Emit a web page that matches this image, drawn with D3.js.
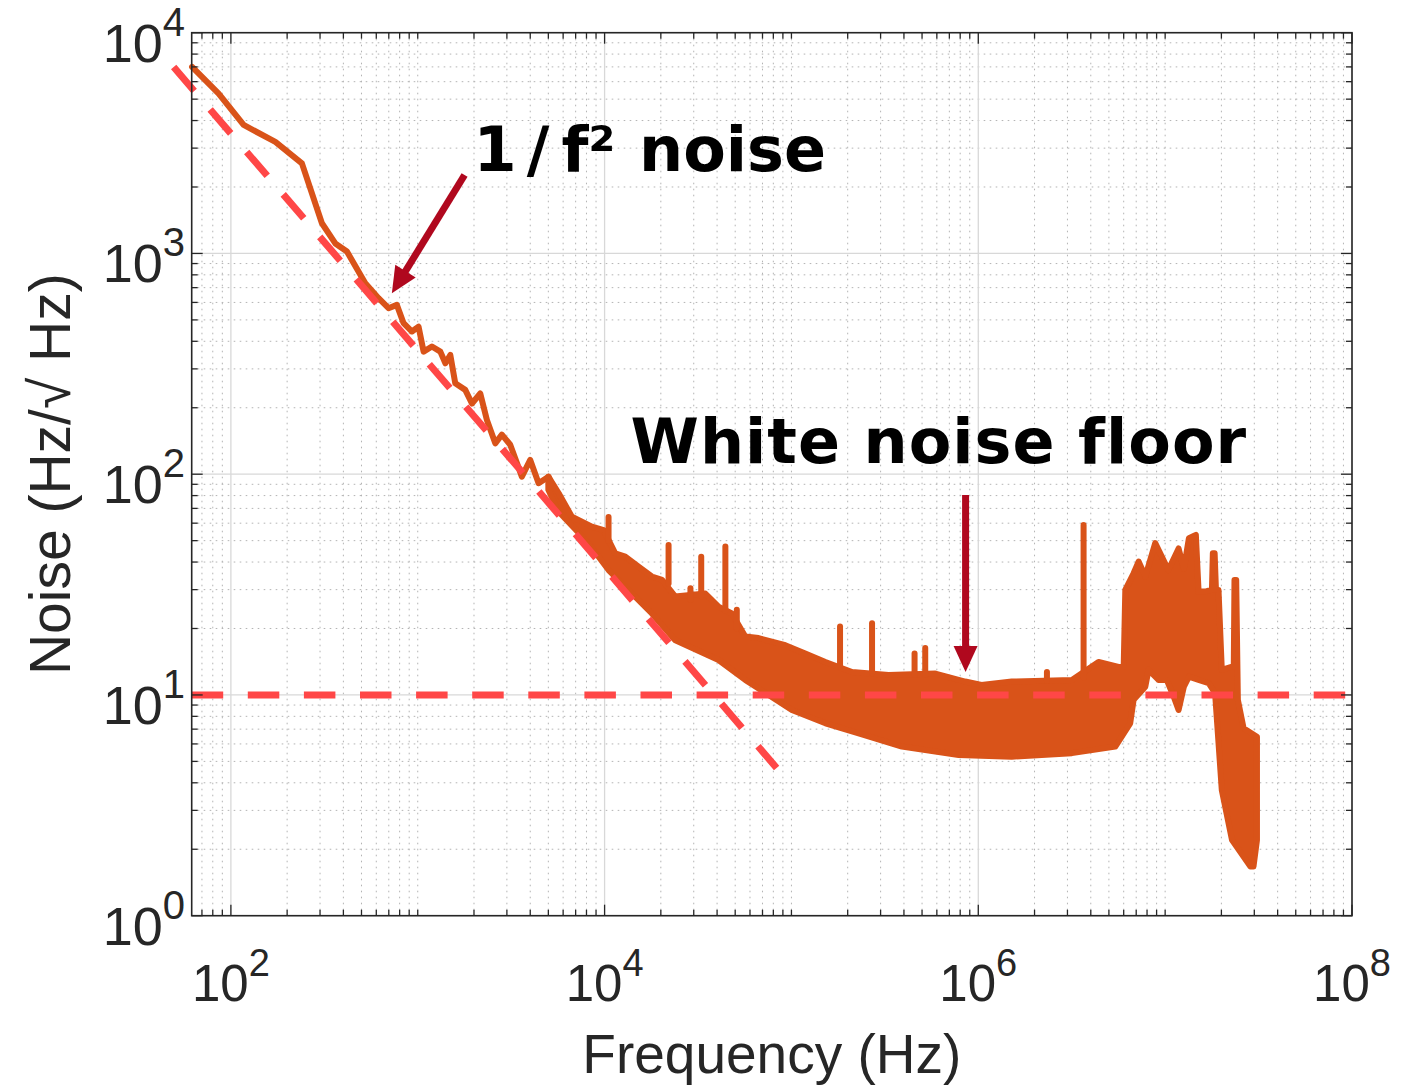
<!DOCTYPE html>
<html lang="en">
<head>
<meta charset="utf-8">
<script src="https://d3js.org/d3.v7.min.js"></script>
<style>
  body { margin: 0; background: #fff; }
  text { font-family: "Liberation Sans", Arial, Helvetica, sans-serif; fill: #262626; }
  .note { font-family: "DejaVu Sans", Verdana, sans-serif; font-weight: bold; fill: #000; }
</style>
</head>
<body>
<script>
// ---- values ----
// low-frequency part of the spectrum (single trace)
var lineFreq  = [62, 86, 117, 173, 240, 307, 362, 418, 524, 617, 698, 773, 840, 931, 1010, 1075, 1191, 1321, 1406, 1494, 1588, 1796, 1950, 2161, 2345, 2600, 2820, 3126, 3608, 4000, 4433, 5012, 5680];
var lineNoise = [7000, 5300, 3820, 3200, 2560, 1370, 1110, 1020, 733, 627, 565, 585, 483, 443, 466, 359, 379, 359, 318, 347, 258, 241, 209, 232, 176, 138, 151, 136, 97.5, 116, 91, 97.5, 75];

// dense part: top and bottom of the noisy band
var upperFreq  = [5000, 5680, 6680, 8550, 9890, 11400, 12900, 15200, 17900, 20300, 23900, 34600, 40700, 48000, 56600, 66700, 92700, 118600, 152000, 211000, 331000, 589000, 851000, 1.04e6, 1.51e6, 3.17e6, 4.4e6, 5.63e6, 6.0e6, 6.12e6, 6.78e6, 7.21e6, 7.83e6, 8.85e6, 1.04e7, 1.18e7, 1.26e7, 1.34e7, 1.46e7, 1.51e7, 1.64e7, 1.78e7, 1.80e7, 1.84e7, 1.87e7, 1.93e7, 2.01e7, 2.33e7, 2.35e7, 2.40e7, 2.45e7, 2.63e7, 3.10e7, 3.10e7];
var upperNoise = [97.5, 82, 64.2, 57.8, 55.8, 43.8, 42.3, 38.1, 34.4, 33.2, 27.9, 28.8, 25.1, 23.4, 18.4, 18.1, 16.8, 15.4, 14.1, 12.7, 12.3, 12.5, 11.5, 11.1, 11.5, 11.7, 14.1, 13.4, 13.4, 29.9, 35.6, 40.2, 34.4, 48.7, 36.8, 46.1, 37.3, 51.3, 53.1, 29.4, 29.4, 30, 43.9, 43.9, 30, 29.9, 13.0, 13.5, 33.2, 33.2, 9.5, 7.06, 6.47, 2.2];
var lowerFreq  = [5000, 5680, 8200, 10500, 17900, 23900, 40700, 56600, 100500, 152000, 229000, 390000, 785000, 1.51e6, 3.17e6, 5.41e6, 6.5e6, 6.78e6, 7.83e6, 8.15e6, 9.22e6, 1.02e7, 1.11e7, 1.18e7, 1.26e7, 1.34e7, 1.51e7, 1.71e7, 1.85e7, 2.01e7, 2.28e7, 2.86e7, 2.97e7];
var lowerNoise = [85, 67.6, 48.7, 36.8, 23.4, 17.7, 14.4, 11.7, 8.55, 7.44, 6.7, 5.84, 5.35, 5.25, 5.45, 5.84, 7.44, 9.5, 10.9, 13, 11.7, 11.7, 9.84, 8.55, 10.9, 12.1, 11.7, 11.3, 10.2, 3.7, 2.2, 1.67, 1.67];

// narrow spurs standing out of the band
var spikeFreq = [10500, 22000, 28800, 32900, 44300, 51000, 182000, 270000, 456000, 520000, 2.33e6, 3.66e6];
var spikeBase = [50, 32, 27, 28, 24, 20, 13.5, 12.5, 12.3, 12.3, 11.6, 12];
var spikePeak = [64, 47.8, 30.4, 42.3, 47, 24.3, 20.4, 21.1, 15.4, 16.3, 12.7, 58.9];

// guide lines
var fitFreq = [49.4, 83300];
var fitNoise = [6990, 4.67];
var floorLevel = 10;

// ticks
var xTickExp = [2, 4, 6, 8];
var yTickExp = [0, 1, 2, 3, 4];

// annotations (data units)
var noteFreq = [1990, 13770];
var noteNoise = [2363, 112.4];
var arrowFromFreq = [1781, 855000], arrowFromNoise = [2266, 80.6];
var arrowToFreq = [727, 855000], arrowToNoise = [660, 12.7];

// ---- layout ----
var W = 1425, H = 1086;
var padL = 191.7, padR = 1352, padT = 32.7, padB = 915.7;
var orange = "#D95319", dashRed = "#FF4747", arrowRed = "#B0081E", axisCol = "#262626";

var x = d3.scaleLog().domain([61.7, 1e8]).range([padL, padR]);
var y = d3.scaleLog().domain([1, 1e4]).range([padB, padT]);

var svg = d3.select("body").append("svg")
    .attr("width", W)
    .attr("height", H);

// grid
var xMinor = [], yMinor = [];
for (var e = 1; e < 8; e++) {
    for (var k = 1; k < 10; k++) {
        var v = k * Math.pow(10, e);
        if (v > 61.7 && v < 1e8 && xTickExp.indexOf(Math.log10(v)) < 0) xMinor.push(v);
    }
}
for (var e2 = 0; e2 < 4; e2++) {
    for (var k2 = 2; k2 < 10; k2++) yMinor.push(k2 * Math.pow(10, e2));
}

var grid = svg.append("g");
grid.selectAll(".xminor").data(xMinor).enter().append("line")
    .attr("x1", function(d) { return x(d); }).attr("x2", function(d) { return x(d); })
    .attr("y1", padT).attr("y2", padB)
    .attr("stroke", "#b4b4b4").attr("stroke-width", 1).attr("stroke-dasharray", "1.6,4.4");
grid.selectAll(".yminor").data(yMinor).enter().append("line")
    .attr("x1", padL).attr("x2", padR)
    .attr("y1", function(d) { return y(d); }).attr("y2", function(d) { return y(d); })
    .attr("stroke", "#b4b4b4").attr("stroke-width", 1).attr("stroke-dasharray", "1.6,4.4");
grid.selectAll(".xmajor").data(xTickExp).enter().append("line")
    .attr("x1", function(d) { return x(Math.pow(10, d)); }).attr("x2", function(d) { return x(Math.pow(10, d)); })
    .attr("y1", padT).attr("y2", padB)
    .attr("stroke", "#d8d8d8").attr("stroke-width", 1.3);
grid.selectAll(".ymajor").data(yTickExp).enter().append("line")
    .attr("x1", padL).attr("x2", padR)
    .attr("y1", function(d) { return y(Math.pow(10, d)); }).attr("y2", function(d) { return y(Math.pow(10, d)); })
    .attr("stroke", "#d8d8d8").attr("stroke-width", 1.3);

// spectrum
var line = d3.line()
    .x(function(d) { return x(d[0]); })
    .y(function(d) { return y(d[1]); });

var lowPts = lineFreq.map(function(f, i) { return [f, lineNoise[i]]; });
svg.append("path")
    .attr("d", line(lowPts))
    .attr("fill", "none").attr("stroke", orange)
    .attr("stroke-width", 6).attr("stroke-linejoin", "round").attr("stroke-linecap", "round");

var bandPts = upperFreq.map(function(f, i) { return [f, upperNoise[i]]; })
    .concat(lowerFreq.map(function(f, i) { return [f, lowerNoise[i]]; }).reverse());
var bandLine = d3.line()
    .x(function(d) { return x(d[0]); })
    .y(function(d) { return y(d[1]); })
    .curve(d3.curveLinearClosed);
svg.append("path")
    .attr("d", bandLine(bandPts))
    .attr("fill", orange).attr("stroke", orange)
    .attr("stroke-width", 6).attr("stroke-linejoin", "round");

svg.selectAll(".spike").data(spikeFreq).enter().append("line")
    .attr("x1", function(d) { return x(d); }).attr("x2", function(d) { return x(d); })
    .attr("y1", function(d, i) { return y(spikeBase[i]); })
    .attr("y2", function(d, i) { return y(spikePeak[i]); })
    .attr("stroke", orange).attr("stroke-width", 6).attr("stroke-linecap", "round");

// dashed guides
svg.append("path")
    .attr("d", line([[fitFreq[0], fitNoise[0]], [fitFreq[1], fitNoise[1]]]))
    .attr("stroke", dashRed).attr("stroke-width", 7).attr("fill", "none")
    .attr("stroke-dasharray", "31.5,24.5");
svg.append("path")
    .attr("d", line([[61.7, floorLevel], [1e8, floorLevel]]))
    .attr("stroke", dashRed).attr("stroke-width", 7).attr("fill", "none")
    .attr("stroke-dasharray", "31.5,24.6");

// frame + ticks on all four sides
svg.append("rect")
    .attr("x", padL).attr("y", padT)
    .attr("width", padR - padL).attr("height", padB - padT)
    .attr("fill", "none").attr("stroke", axisCol).attr("stroke-width", 1.6);

var ticks = svg.append("g").attr("stroke", axisCol).attr("stroke-width", 1.3);
var xMajorVals = xTickExp.map(function(d) { return Math.pow(10, d); });
var yMajorVals = yTickExp.map(function(d) { return Math.pow(10, d); });
function xTicks(vals, len) {
    vals.forEach(function(v) {
        ticks.append("line").attr("x1", x(v)).attr("x2", x(v)).attr("y1", padB).attr("y2", padB - len);
        ticks.append("line").attr("x1", x(v)).attr("x2", x(v)).attr("y1", padT).attr("y2", padT + len);
    });
}
function yTicks(vals, len) {
    vals.forEach(function(v) {
        ticks.append("line").attr("y1", y(v)).attr("y2", y(v)).attr("x1", padL).attr("x2", padL + len);
        ticks.append("line").attr("y1", y(v)).attr("y2", y(v)).attr("x1", padR).attr("x2", padR - len);
    });
}
xTicks(xMajorVals, 11);
xTicks(xMinor, 6);
yTicks(yMajorVals, 11);
yTicks(yMinor, 6);

// tick labels
var xl = svg.selectAll(".xlab").data(xTickExp).enter().append("text")
    .attr("x", function(d) { return x(Math.pow(10, d)); })
    .attr("y", 1001)
    .attr("text-anchor", "middle")
    .style("font-size", "51px");
xl.append("tspan").text("10");
xl.append("tspan").attr("dy", -25).style("font-size", "38px").text(function(d) { return d; });

var yl = svg.selectAll(".ylab").data(yTickExp).enter().append("text")
    .attr("x", 185)
    .attr("y", function(d) { return y(Math.pow(10, d)) + 29; })
    .attr("text-anchor", "end")
    .style("font-size", "54px");
yl.append("tspan").text("10");
yl.append("tspan").attr("dy", -26).style("font-size", "40px").text(function(d) { return d; });

// axis titles
svg.append("text")
    .attr("x", (padL + padR) / 2).attr("y", 1073)
    .attr("text-anchor", "middle")
    .style("font-size", "55px")
    .text("Frequency (Hz)");
svg.append("text")
    .attr("transform", "translate(70," + ((padT + padB) / 2) + ") rotate(-90)")
    .attr("text-anchor", "middle")
    .style("font-size", "57px")
    .text("Noise (Hz/\u221a Hz)");

// annotations
var n1 = svg.append("text").attr("class", "note")
    .attr("x", x(noteFreq[0])).attr("y", y(noteNoise[0]))
    .style("font-size", "62px");
n1.append("tspan").text("1");
n1.append("tspan").attr("dx", 10).text("/");
n1.append("tspan").attr("dx", 12).text("f\u00b2");
n1.append("tspan").attr("dx", 2).text(" noise");

svg.append("text").attr("class", "note")
    .attr("x", x(noteFreq[1])).attr("y", y(noteNoise[1]))
    .style("font-size", "62px")
    .style("letter-spacing", "1px")
    .text("White noise floor");

arrowFromFreq.forEach(function(f, i) {
    var x0 = x(f), y0 = y(arrowFromNoise[i]);
    var x1 = x(arrowToFreq[i]), y1 = y(arrowToNoise[i]);
    var dx = x1 - x0, dy = y1 - y0, L = Math.sqrt(dx * dx + dy * dy);
    var ux = dx / L, uy = dy / L, headLen = 26, headHalf = 12;
    var bx = x1 - ux * headLen, by = y1 - uy * headLen;
    svg.append("line")
        .attr("x1", x0).attr("y1", y0).attr("x2", bx + ux * 2).attr("y2", by + uy * 2)
        .attr("stroke", arrowRed).attr("stroke-width", 7);
    svg.append("path")
        .attr("d", "M" + x1 + "," + y1 +
                   "L" + (bx - uy * headHalf) + "," + (by + ux * headHalf) +
                   "L" + (bx + uy * headHalf) + "," + (by - ux * headHalf) + "Z")
        .attr("fill", arrowRed);
});
</script>
</body>
</html>
